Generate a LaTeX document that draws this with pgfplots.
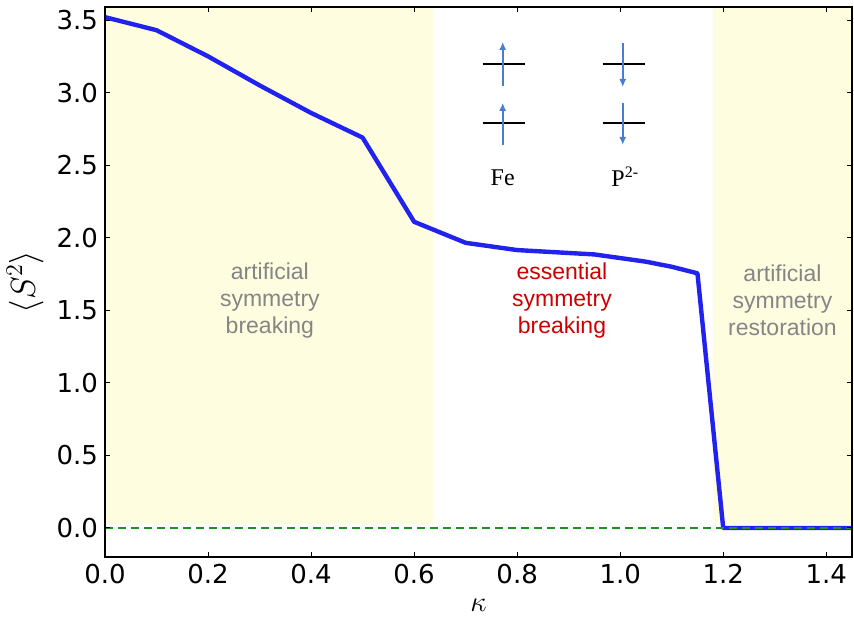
\documentclass[border=0pt]{standalone}
\usepackage{pgfplots}
\pgfplotsset{compat=1.18}
\usetikzlibrary{arrows.meta}
\usepackage{fontspec}
\setmainfont{DejaVu Sans}
\newfontfamily\arialfont{Liberation Sans}
\newfontfamily\timesfont{Liberation Serif}
\definecolor{bgyellow}{HTML}{FFFDE0}
\definecolor{curve}{HTML}{2222EE}
\definecolor{arr}{HTML}{4A7CD0}
\definecolor{ess}{HTML}{CC0000}
\definecolor{grayt}{HTML}{858585}
\definecolor{dgreen}{HTML}{1F8F1F}
\begin{document}
\begin{tikzpicture}
\useasboundingbox (-52.5pt,-33pt) rectangle (374.5pt,278.5pt);
\begin{axis}[
  scale only axis, width=373.5pt, height=275pt,
  xmin=0, xmax=1.45, ymin=-0.2, ymax=3.59,
  xtick={0,0.2,0.4,0.6,0.8,1.0,1.2,1.4},
  ytick={0,0.5,1.0,1.5,2.0,2.5,3.0,3.5},
  tick align=inside, major tick length=2.5pt,
  tick style={black, line width=0.5pt},
  axis line style={line width=0.8pt},
  axis on top,
  ticklabel style={font=\fontsize{13}{15}\selectfont},
  /pgf/number format/assume math mode=true,
  /pgf/number format/.cd, fixed, fixed zerofill, precision=1, /pgfplots/.cd,
  xlabel={$\kappa$},
  ylabel={$\langle S^2 \rangle$},
  xlabel style={at={(axis description cs:0.5,-0.087)}, anchor=center, font=\fontsize{14}{16}\selectfont},
  ylabel style={at={(axis description cs:-0.107,0.5)}, anchor=center, font=\fontsize{17}{19}\selectfont},
  clip=true,
]
\fill[bgyellow] (axis cs:0,0.025) rectangle (axis cs:0.637,3.59);
\fill[bgyellow] (axis cs:1.18,0.025) rectangle (axis cs:1.45,3.59);

\addplot[curve, line width=2.2pt, line join=round] coordinates {
 (0,3.52) (0.1,3.43) (0.2,3.25) (0.3,3.05) (0.4,2.86) (0.5,2.69)
 (0.6,2.11) (0.7,1.965) (0.8,1.915) (0.9,1.895) (0.95,1.885) (1.0,1.86)
 (1.05,1.835) (1.1,1.80) (1.15,1.755) (1.2,0.0) (1.3,0.0) (1.4,0.0) (1.45,0.0)
};
\addplot[dgreen, line width=0.8pt, dash pattern=on 4pt off 2.5pt] coordinates {(0,0) (1.45,0)};

% inset sketch
\draw[black, line width=0.75pt] (axis cs:0.733,3.198) -- (axis cs:0.815,3.198);
\draw[black, line width=0.75pt] (axis cs:0.733,2.791) -- (axis cs:0.815,2.791);
\draw[black, line width=0.75pt] (axis cs:0.966,3.198) -- (axis cs:1.048,3.198);
\draw[black, line width=0.75pt] (axis cs:0.966,2.791) -- (axis cs:1.048,2.791);
\draw[arr, line width=0.9pt, -{Latex[length=4pt,width=3.6pt]}] (axis cs:0.772,3.046) -- (axis cs:0.772,3.349);
\draw[arr, line width=0.9pt, -{Latex[length=4pt,width=3.6pt]}] (axis cs:0.772,2.640) -- (axis cs:0.772,2.929);
\draw[arr, line width=0.9pt, -{Latex[length=4pt,width=3.6pt]}] (axis cs:1.005,3.343) -- (axis cs:1.005,3.039);
\draw[arr, line width=0.9pt, -{Latex[length=4pt,width=3.6pt]}] (axis cs:1.005,2.929) -- (axis cs:1.005,2.640);
\node[font=\timesfont\fontsize{12}{14}\selectfont] at (axis cs:0.772,2.41) {Fe};
\node[font=\timesfont\fontsize{12}{14}\selectfont] at (axis cs:1.01,2.42) {P\textsuperscript{2-}};

\node[align=center, text=grayt, font=\arialfont\fontsize{11.5}{13.5}\selectfont] at (axis cs:0.32,1.57) {artificial\\symmetry\\breaking};
\node[align=center, text=ess, font=\arialfont\fontsize{11.5}{13.5}\selectfont] at (axis cs:0.887,1.57) {essential\\symmetry\\breaking};
\node[align=center, text=grayt, font=\arialfont\fontsize{11.5}{13.5}\selectfont] at (axis cs:1.315,1.57) {artificial\\symmetry\\restoration};
\end{axis}
\end{tikzpicture}
\end{document}
